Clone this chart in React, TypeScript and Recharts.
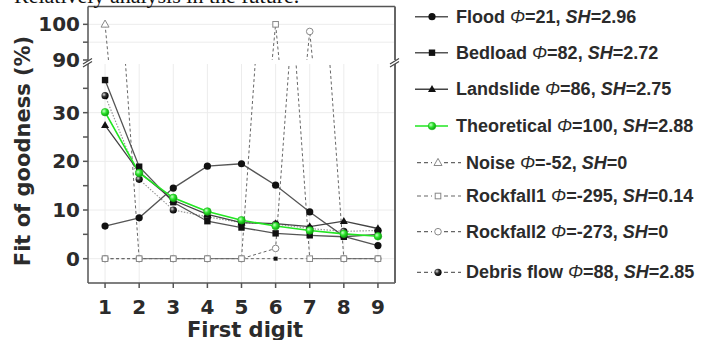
import { LineChart, Line, XAxis, YAxis, CartesianGrid } from "recharts";

// first digit categories
const digits = [1, 2, 3, 4, 5, 6, 7, 8, 9];

// fit of goodness (%) per series
const flood = [6.7, 8.4, 14.5, 19.0, 19.5, 15.1, 9.6, 4.6, 2.7];
const bedload = [36.7, 18.9, 11.6, 7.7, 6.4, 5.2, 4.8, 4.5, 5.0];
const landslide = [27.4, 17.8, 12.0, 9.1, 7.4, 7.2, 6.6, 7.7, 6.2];
const theoretical = [30.1, 17.6, 12.5, 9.7, 7.9, 6.7, 5.8, 5.1, 4.6];
const noise = [100, 0, 0, 0, 0, 0, 0, 0, 0];
const rockfall1 = [0, 0, 0, 0, 0, 100, 0, 0, 0];
const rockfall2 = [0, 0, 0, 0, 0, 2.1, 98, 0, 0];
const debrisFlow = [33.5, 16.3, 10.0, 8.6, 7.4, 7.1, 6.2, 5.6, 5.8];

// legend labels
const seriesNames = ["Flood", "Bedload", "Landslide", "Theoretical", "Noise", "Rockfall1", "Rockfall2", "Debris flow"];
const phiValues = ["21", "82", "86", "100", "-52", "-295", "-273", "88"];
const shValues = ["2.96", "2.72", "2.75", "2.88", "0", "0.14", "0", "2.85"];

// broken y axis
const lowerTicks = [0, 5, 10, 15, 20, 25, 30, 35];
const upperTicks = [90, 95, 100];

const data = digits.map((d, i) => ({
  digit: d,
  flood: flood[i],
  bedload: bedload[i],
  landslide: landslide[i],
  theoretical: theoretical[i],
  noise: noise[i],
  rockfall1: rockfall1[i],
  rockfall2: rockfall2[i],
  debris: debrisFlow[i],
}));

// drawing order (theoretical on top)
const series = [
  { key: "noise", marker: "openTriangle", stroke: "#666", width: 1, dash: "3 2.5" },
  { key: "rockfall2", marker: "openCircle", stroke: "#666", width: 1, dash: "3 2.5" },
  { key: "rockfall1", marker: "openSquare", stroke: "#666", width: 1, dash: "3 2.5" },
  { key: "debris", marker: "ball", stroke: "#999", width: 1.2, dash: "1.5 1.5" },
  { key: "flood", marker: "circle", stroke: "#555", width: 1.3, dash: undefined },
  { key: "bedload", marker: "square", stroke: "#555", width: 1.3, dash: undefined },
  { key: "landslide", marker: "triangle", stroke: "#444", width: 1.3, dash: undefined },
  { key: "theoretical", marker: "greenBall", stroke: "#22e622", width: 1.6, dash: undefined },
];

const legendKeys = ["flood", "bedload", "landslide", "theoretical", "noise", "rockfall1", "rockfall2", "debris"];
const legendY = [16.7, 52.7, 89.3, 126, 162.7, 196, 231.7, 272.3];

const ink = "#2b2b2b";
const tickFont = { fontSize: 20, fontWeight: "bold", fill: ink, fontFamily: "DejaVu Sans" };
const axisStroke = { stroke: "#555", strokeWidth: 1.5 };

function Marker({ kind, x, y }: { kind: string; x: number; y: number }) {
  switch (kind) {
    case "circle":
      return <circle cx={x} cy={y} r={3.6} fill="#111" />;
    case "square":
      return <rect x={x - 3.2} y={y - 3.2} width={6.4} height={6.4} fill="#111" />;
    case "smallSquare":
      return <rect x={x - 2} y={y - 2} width={4} height={4} fill="#111" />;
    case "triangle":
      return <polygon points={`${x},${y - 4.3} ${x + 4},${y + 2.8} ${x - 4},${y + 2.8}`} fill="#111" />;
    case "greenBall":
      return <circle cx={x} cy={y} r={3.8} fill="url(#greenBall)" stroke="#14b814" strokeWidth={0.6} />;
    case "ball":
      return <circle cx={x} cy={y} r={3.6} fill="url(#blackBall)" />;
    case "openTriangle":
      return (
        <polygon
          points={`${x},${y - 4.3} ${x + 4},${y + 2.8} ${x - 4},${y + 2.8}`}
          fill="#fff"
          stroke="#888"
          strokeWidth={1}
        />
      );
    case "openSquare":
      return <rect x={x - 2.8} y={y - 2.8} width={5.6} height={5.6} fill="#fff" stroke="#888" strokeWidth={1} />;
    default:
      return <circle cx={x} cy={y} r={3.3} fill="#fff" stroke="#888" strokeWidth={1} />;
  }
}

function renderLines(tag: string) {
  return series.map((s) => (
    <Line
      key={s.key}
      type="linear"
      dataKey={s.key}
      stroke={s.stroke}
      strokeWidth={s.width}
      strokeDasharray={s.dash}
      dot={(p: any) => {
        // noise points lying on zero show as a small filled square
        const kind = s.key === "noise" && p.value === 0 ? "smallSquare" : s.marker;
        return <Marker key={`${tag}-${s.key}-${p.index}`} kind={kind} x={p.cx} y={p.cy} />;
      }}
      activeDot={false}
      isAnimationActive={false}
    />
  ));
}

function BreakMark({ x, y }: { x: number; y: number }) {
  return (
    <g>
      <polygon points={`${x - 5},${y + 2} ${x + 4},${y - 3.5} ${x + 4},${y - 0.5} ${x - 5},${y + 5}`} fill="#fff" />
      <line x1={x - 5} y1={y + 2} x2={x + 4} y2={y - 3.5} stroke="#444" strokeWidth={1.2} />
      <line x1={x - 5} y1={y + 5} x2={x + 4} y2={y - 0.5} stroke="#444" strokeWidth={1.2} />
    </g>
  );
}

export default function App() {
  return (
    <div style={{ position: "absolute", left: 0, top: 0, width: 712, height: 340, background: "#fff" }}>
      {/* lower part of the broken axis */}
      <div style={{ position: "absolute", left: 0, top: 0 }}>
        <LineChart width={400} height={340} data={data} margin={{ top: 64, right: 4, bottom: 17, left: 28 }}>
          <CartesianGrid stroke="#ececec" horizontalValues={[0, 10, 20, 30]} verticalValues={digits} />
          <XAxis
            dataKey="digit"
            type="number"
            domain={[0.5, 9.5]}
            ticks={digits}
            interval={0}
            height={40}
            tickSize={5}
            tickMargin={12}
            tick={tickFont}
            tickLine={axisStroke}
            axisLine={axisStroke}
          />
          <YAxis
            type="number"
            domain={[-5, 40]}
            ticks={lowerTicks}
            interval={0}
            allowDataOverflow
            width={60}
            tickSize={5}
            tickMargin={3}
            tick={tickFont}
            tickFormatter={(v: number) => (v % 10 === 0 ? String(v) : "")}
            tickLine={axisStroke}
            axisLine={axisStroke}
          />
          <YAxis
            yAxisId="frame"
            orientation="right"
            type="number"
            domain={[0, 1]}
            width={1}
            tick={false}
            tickLine={false}
            axisLine={{ stroke: "#666", strokeWidth: 2 }}
          />
          {renderLines("lo")}
        </LineChart>
      </div>

      {/* upper part of the broken axis */}
      <div style={{ position: "absolute", left: 0, top: 0 }}>
        <LineChart width={400} height={72} data={data} margin={{ top: 5.5, right: 4, bottom: 12, left: 28 }}>
          <CartesianGrid stroke="#ececec" horizontalValues={[95, 100]} verticalValues={digits} />
          <XAxis
            dataKey="digit"
            type="number"
            orientation="top"
            domain={[0.5, 9.5]}
            ticks={digits}
            height={1}
            tick={false}
            tickLine={false}
            axisLine={axisStroke}
          />
          <YAxis
            type="number"
            domain={[90, 105]}
            ticks={upperTicks}
            interval={0}
            allowDataOverflow
            width={60}
            tickSize={5}
            tickMargin={3}
            tick={tickFont}
            tickFormatter={(v: number) => (v % 10 === 0 ? String(v) : "")}
            tickLine={axisStroke}
            axisLine={axisStroke}
          />
          <YAxis
            yAxisId="frame"
            orientation="right"
            type="number"
            domain={[0, 1]}
            width={1}
            tick={false}
            tickLine={false}
            axisLine={{ stroke: "#666", strokeWidth: 2 }}
          />
          {renderLines("hi")}
        </LineChart>
      </div>

      {/* titles, axis breaks and legend */}
      <svg
        width={712}
        height={340}
        style={{ position: "absolute", left: 0, top: 0, pointerEvents: "none" }}
      >
        <defs>
          <radialGradient id="blackBall" cx="35%" cy="35%" r="65%">
            <stop offset="0%" stopColor="#e0e0e0" />
            <stop offset="45%" stopColor="#333" />
            <stop offset="100%" stopColor="#000" />
          </radialGradient>
          <radialGradient id="greenBall" cx="35%" cy="35%" r="65%">
            <stop offset="0%" stopColor="#c8ffc8" />
            <stop offset="50%" stopColor="#2ee62e" />
            <stop offset="100%" stopColor="#10a010" />
          </radialGradient>
        </defs>

        <text x={14} y={3} fontFamily="Liberation Serif" fontSize={22} fill="#111">
          Relatively analysis in the future.
        </text>

        <BreakMark x={88} y={62} />
        <BreakMark x={395} y={62} />

        <text
          transform="translate(23,151) rotate(-90)"
          textAnchor="middle"
          dominantBaseline="central"
          fontFamily="DejaVu Sans"
          fontWeight="bold"
          fontSize={21}
          fill={ink}
        >
          Fit of goodness (%)
        </text>
        <text x={245} y={337} textAnchor="middle" fontFamily="DejaVu Sans" fontWeight="bold" fontSize={21} fill={ink}>
          First digit
        </text>

        {legendKeys.map((key, i) => {
          const s = series.find((d) => d.key === key)!;
          const y = legendY[i];
          const dashed = !!s.dash;
          const mx = dashed ? 438 : 432;
          return (
            <g key={key}>
              {dashed ? (
                <>
                  <line x1={417} y1={y} x2={432} y2={y} stroke="#666" strokeWidth={1.2} strokeDasharray="4 3" />
                  <line x1={444} y1={y} x2={461} y2={y} stroke="#666" strokeWidth={1.2} strokeDasharray="4 3" />
                </>
              ) : (
                <line x1={415} y1={y} x2={448} y2={y} stroke={s.stroke} strokeWidth={1.5} />
              )}
              <Marker kind={s.marker} x={mx} y={y} />
              <text
                x={dashed ? 466 : 456}
                y={y}
                dominantBaseline="central"
                fontFamily="Liberation Sans"
                fontWeight="bold"
                fontSize={18}
                fill={ink}
              >
                {`${seriesNames[i]} `}
                <tspan fontStyle="italic" fontWeight="normal">Φ</tspan>
                {`=${phiValues[i]}, `}
                <tspan fontStyle="italic">SH</tspan>
                {`=${shValues[i]}`}
              </text>
            </g>
          );
        })}
      </svg>
    </div>
  );
}
